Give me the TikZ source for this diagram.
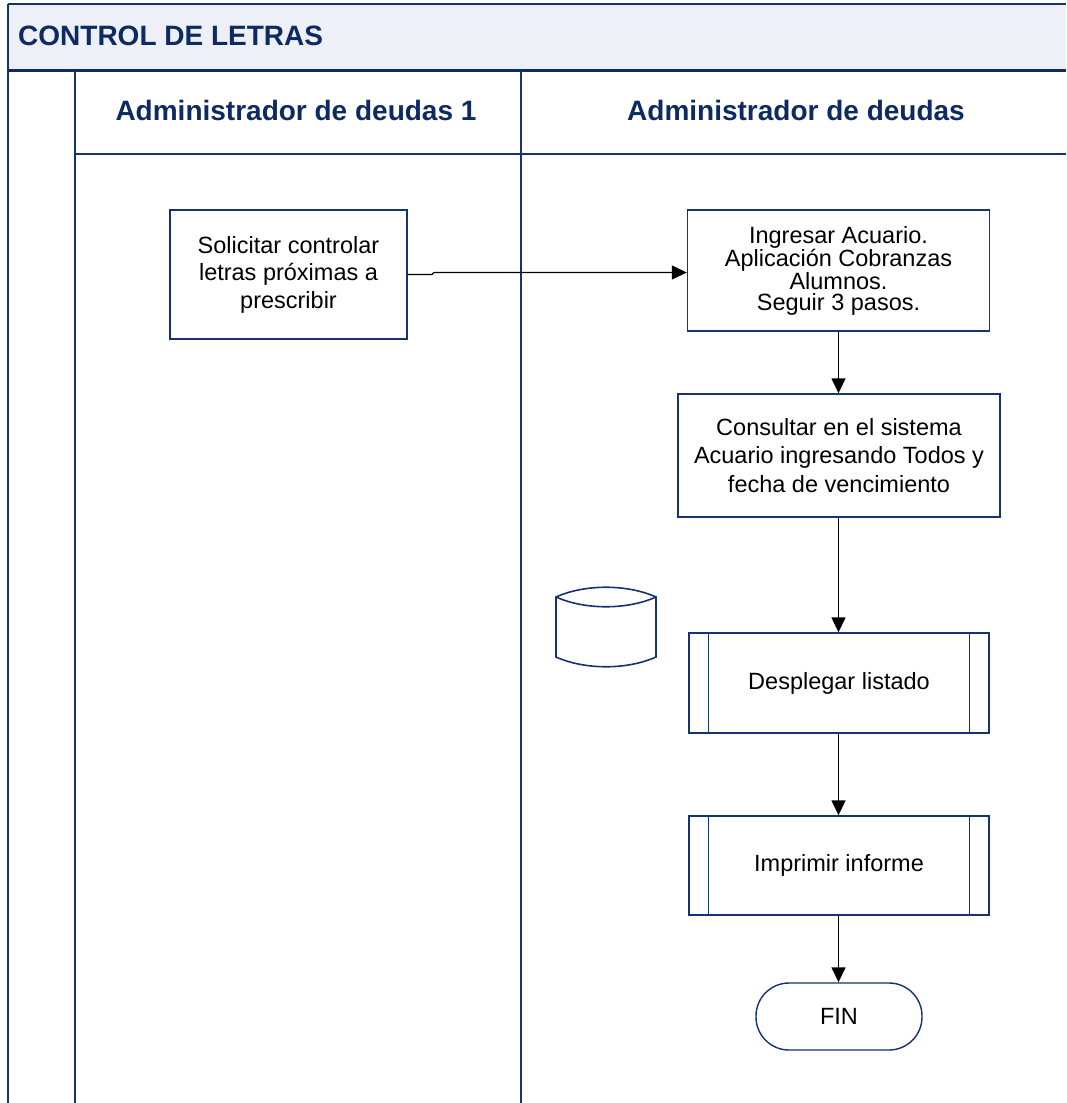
\documentclass[tikz,border=0pt]{standalone}
\usepackage{fontspec}
\setmainfont{Liberation Sans}
\usetikzlibrary{arrows.meta}
\definecolor{navy}{HTML}{14336F}
\definecolor{navytext}{HTML}{0D2A63}
\definecolor{headfill}{HTML}{EDF0F6}
\tikzset{
  lane/.style={draw=navy, line width=2pt},
  procbox/.style={draw=navy, line width=1.4pt, rectangle, align=center, inner sep=0pt,
     font=\fontsize{23.5}{27.5}\selectfont},
  subproc/.style={procbox},
  flow/.style={draw=black, line width=1.4pt, -{Triangle[length=15pt,width=14pt]}},
  lanetitle/.style={font=\fontsize{28}{32}\selectfont\bfseries, text=navytext, inner sep=0pt, anchor=base},
}
\begin{document}
\begin{tikzpicture}[x=1pt,y=-1pt]
\useasboundingbox (0,0) rectangle (1066,1103);
% header band
\fill[headfill] (8,4) rectangle (1066,70);
\draw[navy, line width=1.6pt] (8,4) -- (1066,4);
\draw[lane] (8,4) -- (8,1103);
\draw[draw=navytext, line width=3pt] (8,70) -- (1066,70);
\draw[lane] (75,70) -- (75,1103);
\draw[lane] (521,70) -- (521,1103);
\draw[navy, line width=1.6pt] (75,154) -- (1066,154);
% titles
\node[lanetitle, anchor=base west] (title) at (18,45) {CONTROL DE LETRAS};
\node[lanetitle] (lane1) at (296,120) {Administrador de deudas 1};
\node[lanetitle] (lane2) at (796,120) {Administrador de deudas};
% boxes
\node[procbox, minimum width=237pt, minimum height=129pt] (sol) at (288.5,274.5)
  {Solicitar controlar\\letras próximas a\\prescribir};
\node[procbox, minimum width=302pt, minimum height=121pt,
  font=\fontsize{23.5}{21}\selectfont] (ing) at (838.5,270.5)
  {Ingresar Acuario.\\Aplicación Cobranzas\\Alumnos.\\Seguir 3 pasos.};
\node[procbox, minimum width=322pt, minimum height=123pt,
  font=\fontsize{23.5}{28.5}\selectfont] (con) at (839,455.5)
  {Consultar en el sistema\\Acuario ingresando Todos y\\fecha de vencimiento};
\node[subproc, minimum width=300pt, minimum height=100pt] (des) at (839,683) {Desplegar listado};
\node[subproc, minimum width=300pt, minimum height=99pt] (imp) at (839,865.5) {Imprimir informe};
\foreach \b in {des,imp}{
  \draw[navy, line width=1.4pt] ([xshift=20pt]\b.north west) -- ([xshift=20pt]\b.south west);
  \draw[navy, line width=1.4pt] ([xshift=-20pt]\b.north east) -- ([xshift=-20pt]\b.south east);
}
\node[procbox, rounded corners=33pt, minimum width=166pt, minimum height=67pt] (fin) at (839,1016.5) {FIN};
% database cylinder
\draw[navy, line width=1.6pt]
  (556,597) .. controls (585,584) and (627,584) .. (656,597)
  -- (656,657) .. controls (627,670) and (585,670) .. (556,657) -- cycle;
\draw[navy, line width=1.6pt] (556,597) .. controls (585,610) and (627,610) .. (656,597);
\coordinate (db) at (606,627);
% connectors
\coordinate (j1) at (432,274.5);
\coordinate (j2) at (434,272.5);
\draw[flow] (sol.east) -- (j1) -- (j2) -- (j2 -| ing.west);
\draw[flow] (ing.south) -- (ing.south |- con.north);
\draw[flow] (ing.south |- con.south) -- (ing.south |- des.north);
\draw[flow] (ing.south |- des.south) -- (ing.south |- imp.north);
\draw[flow] (ing.south |- imp.south) -- (ing.south |- fin.north);
\end{tikzpicture}
\end{document}
